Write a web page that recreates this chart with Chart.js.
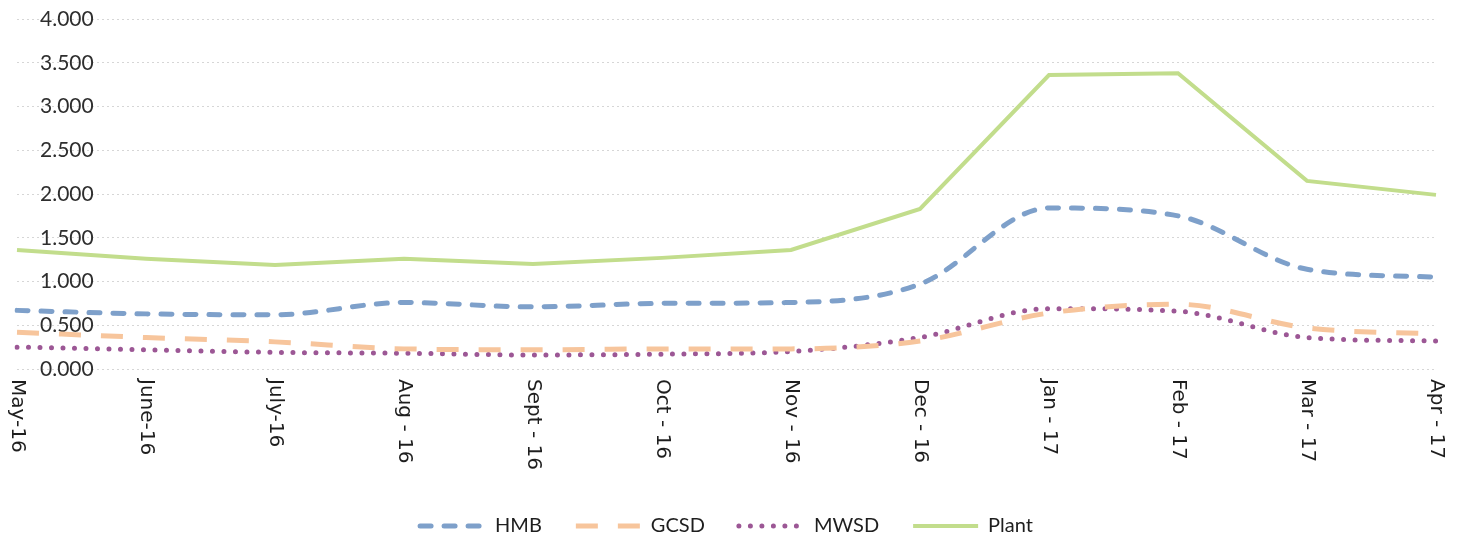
<!DOCTYPE html>
<html>
<head>
<meta charset="utf-8">
<script src="https://cdn.jsdelivr.net/npm/chart.js@4/dist/chart.umd.min.js"></script>
<style>
  html, body { margin: 0; padding: 0; background: #ffffff; }
  #c { display: block; }
</style>
</head>
<body>
<canvas id="c" width="1461" height="541"></canvas>
<script>
// Monthly values, May 2016 – April 2017
const months = ['May-16', 'June-16', 'July-16', 'Aug - 16', 'Sept - 16', 'Oct - 16',
                'Nov - 16', 'Dec - 16', 'Jan - 17', 'Feb - 17', 'Mar - 17', 'Apr - 17'];
const hmb   = [0.67, 0.63, 0.62, 0.76, 0.71, 0.75, 0.76, 0.97, 1.84, 1.75, 1.14, 1.05];
const gcsd  = [0.42, 0.36, 0.31, 0.23, 0.22, 0.23, 0.23, 0.32, 0.64, 0.74, 0.47, 0.40];
const mwsd  = [0.25, 0.22, 0.19, 0.18, 0.16, 0.17, 0.20, 0.36, 0.69, 0.66, 0.36, 0.32];
const plant = [1.36, 1.26, 1.19, 1.26, 1.20, 1.27, 1.36, 1.83, 3.36, 3.38, 2.15, 1.99];
const yMin = 0, yMax = 4, yStep = 0.5;

// Month labels drawn vertically, reading top to bottom under each category
const verticalMonthLabels = {
  id: 'verticalMonthLabels',
  afterDraw(chart) {
    const xs = chart.scales.x;
    const ctx = chart.ctx;
    ctx.save();
    ctx.font = '20px "DejaVu Sans"';
    ctx.fillStyle = '#1e1e1e';
    ctx.textAlign = 'left';
    ctx.textBaseline = 'middle';
    months.forEach((m, i) => {
      const x = xs.getPixelForValue(i);
      ctx.save();
      ctx.translate(x, chart.chartArea.bottom + 10);
      ctx.rotate(Math.PI / 2);
      ctx.fillText(m, 0, 0);
      ctx.restore();
    });
    ctx.restore();
  }
};

// Legend samples reuse each dataset's own stroke (dash, cap, width)
function legendLabels(chart) {
  const items = Chart.defaults.plugins.legend.labels.generateLabels(chart);
  items.forEach(it => {
    const ds = chart.data.datasets[it.datasetIndex];
    it.pointStyle = 'line';
    it.strokeStyle = ds.borderColor;
    it.lineWidth = ds.borderWidth;
    it.lineDash = ds.borderDash || [];
    it.lineCap = ds.borderCapStyle || 'butt';
  });
  return items;
}

new Chart(document.getElementById('c'), {
  type: 'line',
  data: {
    labels: months,
    datasets: [
      {
        label: 'HMB', data: hmb,
        borderColor: '#7ea0ca', borderWidth: 5,
        borderDash: [11, 13], borderCapStyle: 'round',
        cubicInterpolationMode: 'monotone', pointRadius: 0, fill: false
      },
      {
        label: 'GCSD', data: gcsd,
        borderColor: '#f7c59c', borderWidth: 5,
        borderDash: [22, 20], borderCapStyle: 'butt',
        cubicInterpolationMode: 'monotone', pointRadius: 0, fill: false
      },
      {
        label: 'MWSD', data: mwsd,
        borderColor: '#9c5795', borderWidth: 5,
        borderDash: [0, 11.5], borderCapStyle: 'round',
        cubicInterpolationMode: 'monotone', pointRadius: 0, fill: false
      },
      {
        label: 'Plant', data: plant,
        borderColor: '#c2dd8c', borderWidth: 4,
        tension: 0, pointRadius: 0, fill: false
      }
    ]
  },
  options: {
    responsive: false,
    animation: false,
    layout: { padding: { left: 17, right: 25, top: 19, bottom: -5 } },
    scales: {
      x: {
        offset: false,
        grid: { display: false },
        border: { display: false },
        ticks: { display: false },
        afterFit(s) { s.height = 113; }
      },
      y: {
        min: yMin, max: yMax,
        grid: { color: '#d6d6d6', lineWidth: 1, drawTicks: false },
        border: { display: false, dash: [2, 3] },
        ticks: {
          stepSize: yStep,
          mirror: true,
          padding: 23,
          color: '#2e2e2e',
          font: { family: 'Lato', size: 21 },
          callback: v => Number(v).toFixed(3)
        },
        afterFit(s) { s.width = 0; s.paddingTop = 0; s.paddingBottom = 0; }
      }
    },
    plugins: {
      tooltip: { enabled: false },
      legend: {
        position: 'bottom',
        labels: {
          usePointStyle: true,
          pointStyle: 'line',
          pointStyleWidth: 65,
          boxHeight: 20,
          padding: 34,
          color: '#1e1e1e',
          font: { family: 'Lato', size: 20 },
          generateLabels: legendLabels
        }
      }
    }
  },
  plugins: [verticalMonthLabels]
});
</script>
</body>
</html>
